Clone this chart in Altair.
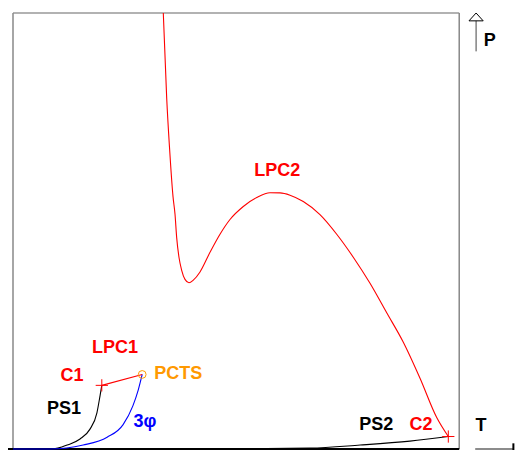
import altair as alt
import pandas as pd

# ---- data (T, P in arbitrary units 0..100) ----
lpc2_T = [33.85, 34.62, 35.25, 36.04, 36.49, 36.87, 37.39, 37.99, 38.74, 39.64, 40.61, 42.12, 44.37,
          46.62, 48.87, 51.87, 54.89, 57.88, 60.14, 62.39, 65.38, 69.14, 72.91, 76.64, 80.41, 84.17,
          87.91, 91.67, 95.43, 98.04]
lpc2_P = [100.0, 80.41, 69.14, 57.88, 53.83, 48.42, 43.92, 40.99, 38.90, 38.13, 38.74, 40.61, 45.11,
          49.26, 52.64, 55.63, 57.66, 58.78, 58.74, 58.22, 56.76, 53.76, 49.26, 43.99, 38.00, 31.24,
          24.48, 16.22, 7.21, 2.86]

ps2_T = [0.0, 30.9, 53.4, 66.9, 78.2, 89.4, 98.04]
ps2_P = [0.0, 0.0, 0.1, 0.2, 0.9, 1.8, 2.86]

ps1_T = [0.0, 8.3, 10.1, 12.2, 15.1, 17.3, 18.9, 19.6, 20.0]
ps1_P = [0.0, 0.0, 0.2, 0.9, 2.3, 4.5, 8.3, 12.2, 14.6]

tri_T = [0.0, 8.3, 15.8, 21.2, 24.8, 27.0, 28.2, 29.1]
tri_P = [0.0, 0.0, 0.9, 2.7, 5.6, 9.9, 13.5, 17.1]

lpc1_T = [20.0, 29.1]
lpc1_P = [14.6, 17.1]

c_points = ["C1", "C2"]
c_T = [20.0, 98.04]
c_P = [14.6, 2.86]

pcts_T = [29.1]
pcts_P = [17.1]

label_text = ["LPC2", "LPC1", "C1", "PS1", "3φ", "PS2", "C2", "T", "P"]
label_T = [59.5, 23.0, 13.3, 11.5, 29.7, 81.8, 91.9, 105.4, 107.4]
label_P = [63.7, 23.2, 16.7, 9.2, 6.3, 5.4, 5.4, 5.2, 93.5]
label_color = ["#ff0000", "#ff0000", "#ff0000", "#000000", "#0000ff", "#000000", "#ff0000", "#000000", "#000000"]

pcts_label = ["PCTS"]
pcts_label_T = [31.8]
pcts_label_P = [17.3]

# frame / axis segments
seg_x = [0.0, 0.0, 100.5, -1.8, 104.1, 112.7, 104.3]
seg_x2 = [100.5, 0.0, 100.5, 100.5, 112.7, 112.7, 104.3]
seg_y = [100.0, 100.0, 100.0, 0.0, 0.0, -0.9, 91.2]
seg_y2 = [100.0, -1.2, 0.0, 0.0, 0.0, 1.3, 98.2]
seg_c = ["#999999", "#888888", "#888888", "#000000", "#666666", "#000000", "#444444"]
seg_w = [1.5, 1.5, 1.5, 2.0, 1.5, 2.0, 1.0]

arrow_T = [102.7, 104.3, 105.9, 102.7]
arrow_P = [98.2, 100.0, 98.2, 98.2]

# ---- build tables ----
rows = []
for name, Ts, Ps, col in [("LPC2", lpc2_T, lpc2_P, "#ff0000"),
                          ("PS2", ps2_T, ps2_P, "#000000"),
                          ("PS1", ps1_T, ps1_P, "#000000"),
                          ("3phi", tri_T, tri_P, "#0000ff"),
                          ("LPC1", lpc1_T, lpc1_P, "#ff0000")]:
    for i, (t, p) in enumerate(zip(Ts, Ps)):
        rows.append({"series": name, "i": i, "T": t, "P": p, "c": col})
curves = pd.DataFrame(rows)

xs = alt.Scale(domain=[0, 100], nice=False, zero=False)
ys = alt.Scale(domain=[0, 100], nice=False, zero=False)

def X(f="T"):
    return alt.X(f"{f}:Q", scale=xs, axis=None)

def Y(f="P"):
    return alt.Y(f"{f}:Q", scale=ys, axis=None)

segs = pd.DataFrame({"x": seg_x, "x2": seg_x2, "y": seg_y, "y2": seg_y2, "c": seg_c, "w": seg_w})
frame = alt.Chart(segs).mark_rule().encode(
    x=alt.X("x:Q", scale=xs, axis=None), x2="x2:Q",
    y=alt.Y("y:Q", scale=ys, axis=None), y2="y2:Q",
    color=alt.Color("c:N", scale=None),
    strokeWidth=alt.StrokeWidth("w:Q", scale=None),
)

lines = alt.Chart(curves).mark_line(strokeWidth=1.1, interpolate="monotone").encode(
    x=X(), y=Y(), detail="series:N", order="i:Q",
    color=alt.Color("c:N", scale=None),
)

arrow = alt.Chart(pd.DataFrame({"T": arrow_T, "P": arrow_P, "i": list(range(4))})).mark_line(
    color="#000000", strokeWidth=1).encode(x=X(), y=Y(), order="i:Q")

crosses = alt.Chart(pd.DataFrame({"T": c_T, "P": c_P, "n": c_points})).mark_point(
    shape="M-1,0L1,0M0,-1L0,1", size=150, color="#ff0000", strokeWidth=1, filled=False, opacity=1
).encode(x=X(), y=Y())

pcts = alt.Chart(pd.DataFrame({"T": pcts_T, "P": pcts_P})).mark_point(
    shape="circle", size=60, color="#ff9900", strokeWidth=1, filled=False, opacity=1
).encode(x=X(), y=Y())

labels = alt.Chart(pd.DataFrame({"T": label_T, "P": label_P, "t": label_text, "c": label_color})).mark_text(
    font="Liberation Sans", fontWeight="bold", fontSize=18, align="center", baseline="middle"
).encode(x=X(), y=Y(), text="t:N", color=alt.Color("c:N", scale=None))

pcts_lab = alt.Chart(pd.DataFrame({"T": pcts_label_T, "P": pcts_label_P, "t": pcts_label})).mark_text(
    font="Liberation Sans", fontWeight="bold", fontSize=18, align="left", baseline="middle", color="#ff9900"
).encode(x=X(), y=Y(), text="t:N")

chart = alt.layer(frame, lines, arrow, crosses, pcts, labels, pcts_lab).properties(
    width=444, height=436,
    autosize=alt.AutoSizeParams(type="none"),
    padding={"left": 5, "top": 5, "right": 58, "bottom": 1},
).configure_view(stroke=None)

chart.save("out.html", embed_options={"renderer": "svg", "actions": False})
